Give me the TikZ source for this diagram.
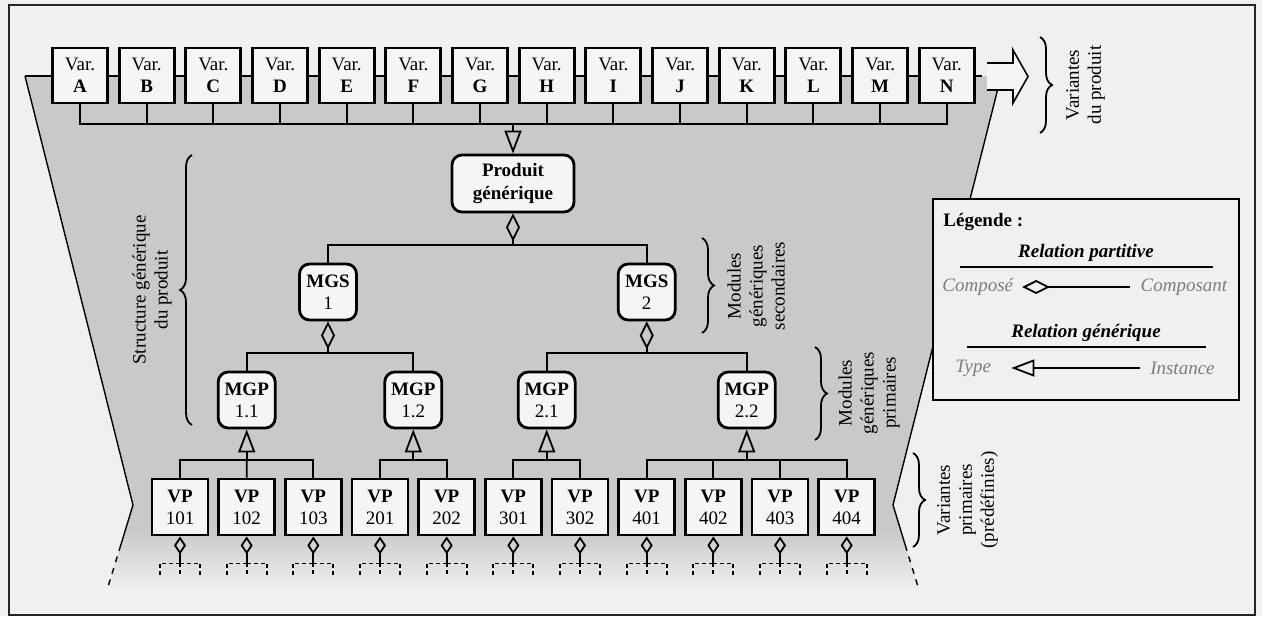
\documentclass[tikz,border=0pt]{standalone}
\usepackage{fontspec}
\setmainfont{Liberation Serif}
\usetikzlibrary{arrows.meta,decorations.pathreplacing}

\definecolor{bg}{RGB}{240,240,240}
\definecolor{trap}{RGB}{201,201,201}
\definecolor{boxbg}{RGB}{245,245,245}
\definecolor{leggrey}{RGB}{125,125,125}

\tikzset{
  varbox/.style={draw, line width=1.4pt, fill=boxbg, minimum width=27.5pt,
    minimum height=27.5pt, inner sep=0pt, align=center,
    font=\fontsize{9.5}{11}\selectfont},
  vpbox/.style={varbox, minimum width=28pt, minimum height=28pt},
  modbox/.style={varbox, rounded corners=5pt, minimum width=28.5pt, minimum height=28pt},
  link/.style={line width=0.9pt},
  comp/.style={link, {Diamond[open, length=14pt, width=7pt]}-},
  compsmall/.style={link, {Diamond[open, length=9pt, width=6pt]}-},
  gen/.style={link, -{Triangle[open, length=11.5pt, width=8.5pt]}},
  sub/.style={link, dash pattern=on 2pt off 1.5pt},
  brc/.style={line width=0.9pt, decorate, decoration={brace, amplitude=6pt}},
  lab/.style={rotate=90, align=center, inner sep=0pt, font=\fontsize{9.5}{11}\selectfont},
  legtxt/.style={inner sep=1.5pt, font=\fontsize{9.5}{11}\selectfont},
}

\begin{document}
\begin{tikzpicture}[x=0.5pt, y=-0.5pt]
  \fill[bg] (0,0) rectangle (1262,616);
  \useasboundingbox (0,0) rectangle (1262,616);
  \draw[line width=1pt, black!85] (9,5) rectangle (1255,615);

  % grey funnel
  \fill[trap] (25,76) -- (1001,76) -- (893,505) -- (900.6,530) -- (125.4,530) -- (133,505) -- cycle;
  \shade[top color=trap, bottom color=bg] (125.4,530) -- (900.6,530) -- (919,590) -- (107,590) -- cycle;
  \draw[link] (25,76) -- (982,76);
  \draw[line width=0.7pt] (25,76) -- (133,505) -- (120.8,545);
  \draw[line width=0.7pt, dashed] (120.8,545) -- (107,590);
  \draw[line width=0.7pt] (997.5,90) -- (893,505) -- (905.2,545);
  \draw[line width=0.7pt, dashed] (905.2,545) -- (919,590);

  % big hollow arrow
  \fill[boxbg] (987,63) -- (1013,63) -- (1013,50) -- (1028,76.5) -- (1013,103) -- (1013,90) -- (987,90) -- cycle;
  \draw[line width=0.8pt] (987,63) -- (1013,63) -- (1013,50) -- (1028,76.5) -- (1013,103) -- (1013,90) -- (987,90);

  % variants
  \foreach \l [count=\i from 0] in {A,B,C,D,E,F,G,H,I,J,K,L,M,N}
    \node[varbox] (var\l) at ({80+66.67*\i},75.5) {Var.\\\textbf{\l}};
  \coordinate (bv) at (513,124);
  \draw[link] (varA.south) |- (bv) -| (varN.south);
  \foreach \l in {B,C,D,E,F,G,H,I,J,K,L,M}
    \draw[link] (var\l.south) -- (var\l.south |- bv);

  % generic structure
  \node[modbox, minimum width=61pt, minimum height=28.5pt] (prod) at (513,183.5) {\textbf{Produit}\\\textbf{générique}};
  \draw[gen] (bv) -- (prod.north);

  \node[modbox] (mgs1) at (328,292) {\textbf{MGS}\\1};
  \node[modbox] (mgs2) at (646.7,292) {\textbf{MGS}\\2};
  \coordinate (bp) at (513,245);
  \draw[comp] (prod.south) -- (bp);
  \draw[link] (mgs1.north) |- (bp) -| (mgs2.north);

  \node[modbox] (mgp11) at (246.7,400) {\textbf{MGP}\\1.1};
  \node[modbox] (mgp12) at (413.3,400) {\textbf{MGP}\\1.2};
  \node[modbox] (mgp21) at (546.7,400) {\textbf{MGP}\\2.1};
  \node[modbox] (mgp22) at (746.7,400) {\textbf{MGP}\\2.2};
  \coordinate (bs1) at (328,353);
  \coordinate (bs2) at (646.7,353);
  \draw[comp] (mgs1.south) -- (bs1);
  \draw[comp] (mgs2.south) -- (bs2);
  \draw[link] (mgp11.north) |- (bs1) -| (mgp12.north);
  \draw[link] (mgp21.north) |- (bs2) -| (mgp22.north);

  % primary variants
  \foreach \n [count=\i from 0] in {101,102,103,201,202,301,302,401,402,403,404}
    \node[vpbox] (vp\n) at ({180+66.67*\i},507) {\textbf{VP}\\\n};
  \coordinate (bm11) at (246.7,460);
  \coordinate (bm12) at (413.3,460);
  \coordinate (bm21) at (546.7,460);
  \coordinate (bm22) at (746.7,460);
  \draw[gen] (bm11) -- (mgp11.south);
  \draw[gen] (bm12) -- (mgp12.south);
  \draw[gen] (bm21) -- (mgp21.south);
  \draw[gen] (bm22) -- (mgp22.south);
  \draw[link] (vp101.north) |- (bm11) -| (vp103.north);
  \draw[link] (vp102.north) -- (bm11);
  \draw[link] (vp201.north) |- (bm12) -| (vp202.north);
  \draw[link] (vp301.north) |- (bm21) -| (vp302.north);
  \draw[link] (vp401.north) |- (bm22) -| (vp404.north);
  \draw[link] (vp402.north) -- (vp402.north |- bm22);
  \draw[link] (vp403.north) -- (vp403.north |- bm22);

  \foreach \n in {101,102,103,201,202,301,302,401,402,403,404} {
    \coordinate (s\n) at ([yshift=-13.5pt]vp\n.south);
    \draw[compsmall] (vp\n.south) -- (s\n);
    \draw[sub] (s\n) -- ++(0,14) (s\n) -| ++(-20,14) (s\n) -| ++(20,14);
  }

  % braces
  \coordinate (br1a) at (1040,37);   \coordinate (br1b) at (1040,133);
  \coordinate (br2a) at (192,425);   \coordinate (br2b) at (192,155);
  \coordinate (br3a) at (702,238);   \coordinate (br3b) at (702,333);
  \coordinate (br4a) at (815,347);   \coordinate (br4b) at (815,440);
  \coordinate (br5a) at (913,453);   \coordinate (br5b) at (913,547);
  \draw[brc] (br1a) -- (br1b);
  \draw[brc] (br2a) -- (br2b);
  \draw[brc] (br3a) -- (br3b);
  \draw[brc] (br4a) -- (br4b);
  \draw[brc] (br5a) -- (br5b);
  \node[lab, anchor=north] (lvar) at (1066,85) {Variantes\\du produit};
  \node[lab, anchor=south] (lstr) at (172,290) {Structure générique\\du produit};
  \node[lab, anchor=north] (lsec) at (727,286) {Modules\\génériques\\secondaires};
  \node[lab, anchor=north] (lprim) at (838,393) {Modules\\génériques\\primaires};
  \node[lab, anchor=north] (lvp) at (937,500) {Variantes\\primaires\\(prédéfinies)};

  % legend
  \draw[line width=0.8pt, fill=bg] (933,199) rectangle (1239,400);
  \node[legtxt, anchor=west] (leg) at (940,222) {\textbf{Légende :}};
  \node[legtxt] (rpart) at (1086,253) {\textbf{\textit{Relation partitive}}};
  \draw[line width=0.6pt] (960,267) -- (1213,267);
  \node[legtxt, anchor=west, text=leggrey] (cpse) at (939,287) {\textit{Composé}};
  \node[legtxt, anchor=east, text=leggrey] (cpst) at (1231,287) {\textit{Composant}};
  \draw[comp, shorten <=2.5pt, shorten >=3.5pt] (cpse.east) -- (cpst.west);
  \node[legtxt, anchor=west, text=leggrey] (type) at (952,368) {\textit{Type}};
  \node[legtxt] (rgen) at (1086,333) {\textbf{\textit{Relation générique}}};
  \draw[line width=0.6pt] (967,347) -- (1206,347);
  \node[legtxt, anchor=east, text=leggrey] (inst) at (1218,368) {\textit{Instance}};
  \draw[gen, shorten >=8.5pt, shorten <=3.5pt] (inst.west) -- (type.east);
\end{tikzpicture}
\end{document}
